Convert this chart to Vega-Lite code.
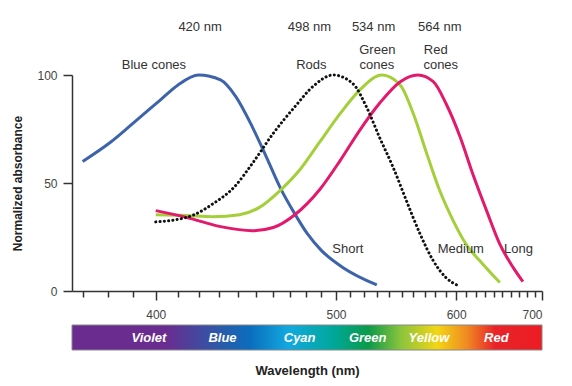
{
  "$schema": "https://vega.github.io/schema/vega-lite/v6.json",
  "padding": {"left": 11, "top": 20, "right": 5, "bottom": 5},
  "background": "white",
  "config": {"view": {"stroke": null}, "font": "Liberation Sans"},
  "spacing": 4,
  "datasets": {
    "curves": [
      {"series": "Blue", "wl": 370, "v": 60}, {"series": "Blue", "wl": 381, "v": 69}, {"series": "Blue", "wl": 390, "v": 77.5},
      {"series": "Blue", "wl": 402, "v": 88.4}, {"series": "Blue", "wl": 410, "v": 95.3}, {"series": "Blue", "wl": 420, "v": 100},
      {"series": "Blue", "wl": 431, "v": 97.7}, {"series": "Blue", "wl": 439, "v": 90}, {"series": "Blue", "wl": 448, "v": 76},
      {"series": "Blue", "wl": 456, "v": 62}, {"series": "Blue", "wl": 464, "v": 48}, {"series": "Blue", "wl": 473, "v": 35.7},
      {"series": "Blue", "wl": 481, "v": 26.4}, {"series": "Blue", "wl": 490, "v": 18.8}, {"series": "Blue", "wl": 505, "v": 10.8},
      {"series": "Blue", "wl": 530, "v": 2.8},
      {"series": "Rods", "wl": 400, "v": 32}, {"series": "Rods", "wl": 409, "v": 33}, {"series": "Rods", "wl": 417, "v": 35},
      {"series": "Rods", "wl": 427, "v": 40.3}, {"series": "Rods", "wl": 438, "v": 48}, {"series": "Rods", "wl": 448, "v": 59},
      {"series": "Rods", "wl": 460, "v": 73}, {"series": "Rods", "wl": 473, "v": 85.3}, {"series": "Rods", "wl": 485, "v": 95},
      {"series": "Rods", "wl": 498, "v": 100}, {"series": "Rods", "wl": 512, "v": 96}, {"series": "Rods", "wl": 522, "v": 85.3},
      {"series": "Rods", "wl": 532, "v": 71.3}, {"series": "Rods", "wl": 543, "v": 57.3}, {"series": "Rods", "wl": 554, "v": 42},
      {"series": "Rods", "wl": 566, "v": 26.4}, {"series": "Rods", "wl": 578, "v": 14}, {"series": "Rods", "wl": 590, "v": 6.2},
      {"series": "Rods", "wl": 603, "v": 2.3},
      {"series": "Green", "wl": 400, "v": 35.3}, {"series": "Green", "wl": 414, "v": 34.9}, {"series": "Green", "wl": 427, "v": 34.4},
      {"series": "Green", "wl": 441, "v": 35.3}, {"series": "Green", "wl": 452, "v": 38.7}, {"series": "Green", "wl": 464, "v": 46.5},
      {"series": "Green", "wl": 476, "v": 56}, {"series": "Green", "wl": 489, "v": 69}, {"series": "Green", "wl": 503, "v": 82.2},
      {"series": "Green", "wl": 517, "v": 93}, {"series": "Green", "wl": 534, "v": 100}, {"series": "Green", "wl": 549, "v": 95.3},
      {"series": "Green", "wl": 560, "v": 82.2}, {"series": "Green", "wl": 572, "v": 63.6}, {"series": "Green", "wl": 584, "v": 46.5},
      {"series": "Green", "wl": 597, "v": 32.6}, {"series": "Green", "wl": 610, "v": 21.7}, {"series": "Green", "wl": 628, "v": 12.4},
      {"series": "Green", "wl": 647, "v": 3.9},
      {"series": "Red", "wl": 400, "v": 37.2}, {"series": "Red", "wl": 414, "v": 34.1}, {"series": "Red", "wl": 431, "v": 29.8},
      {"series": "Red", "wl": 448, "v": 27.9}, {"series": "Red", "wl": 460, "v": 29.4}, {"series": "Red", "wl": 473, "v": 35.3},
      {"series": "Red", "wl": 489, "v": 47}, {"series": "Red", "wl": 503, "v": 60.5}, {"series": "Red", "wl": 517, "v": 74.4},
      {"series": "Red", "wl": 532, "v": 86.8}, {"series": "Red", "wl": 549, "v": 96.9}, {"series": "Red", "wl": 564, "v": 100},
      {"series": "Red", "wl": 578, "v": 96.9}, {"series": "Red", "wl": 590, "v": 86.8}, {"series": "Red", "wl": 604, "v": 71.3},
      {"series": "Red", "wl": 617, "v": 54.3}, {"series": "Red", "wl": 632, "v": 37.2}, {"series": "Red", "wl": 647, "v": 21.7},
      {"series": "Red", "wl": 663, "v": 10.8}, {"series": "Red", "wl": 675, "v": 4.3}
    ],
    "labels": [
      {"label": "420 nm", "wl": 420.7, "v": 122.3},
      {"label": "498 nm", "wl": 482.2, "v": 122.3},
      {"label": "534 nm", "wl": 527.5, "v": 122.3},
      {"label": "564 nm", "wl": 584.1, "v": 122.3},
      {"label": "Blue cones", "wl": 399.2, "v": 104.7},
      {"label": "Rods", "wl": 483.5, "v": 104.7},
      {"label": "Green", "wl": 530.4, "v": 111.6},
      {"label": "cones", "wl": 530, "v": 104.7},
      {"label": "Red", "wl": 580.3, "v": 111.6},
      {"label": "cones", "wl": 585, "v": 104.7},
      {"label": "Short", "wl": 508.4, "v": 19.5},
      {"label": "Medium", "wl": 604.7, "v": 19.5},
      {"label": "Long", "wl": 669.4, "v": 19.5}
    ],
    "band": [{"start": 366, "end": 700}],
    "colors": [
      {"name": "Violet", "wl": 397},
      {"name": "Blue", "wl": 432},
      {"name": "Cyan", "wl": 476},
      {"name": "Green", "wl": 523},
      {"name": "Yellow", "wl": 574},
      {"name": "Red", "wl": 643}
    ]
  },
  "vconcat": [
    {
      "width": 470,
      "height": 216,
      "layer": [
        {
          "data": {"name": "curves"},
          "transform": [{"filter": "datum.series !== 'Rods'"}],
          "mark": {"type": "line", "interpolate": "monotone", "strokeWidth": 3},
          "encoding": {
            "x": {"field": "wl", "type": "quantitative"},
            "y": {"field": "v", "type": "quantitative"},
            "color": {"field": "series", "type": "nominal", "legend": null,
              "scale": {"domain": ["Blue", "Green", "Red"], "range": ["#3D64AA", "#A5CF3A", "#E3196B"]}}
          }
        },
        {
          "data": {"name": "curves"},
          "transform": [{"filter": "datum.series === 'Rods'"}],
          "mark": {"type": "line", "interpolate": "monotone", "strokeWidth": 3, "color": "#111", "strokeDash": [0.1, 4.2], "strokeCap": "round"},
          "encoding": {
            "x": {"field": "wl", "type": "quantitative"},
            "y": {"field": "v", "type": "quantitative"}
          }
        },
        {
          "data": {"name": "labels"},
          "mark": {"type": "text", "fontSize": 13, "color": "#333"},
          "encoding": {
            "x": {"field": "wl", "type": "quantitative"},
            "y": {"field": "v", "type": "quantitative"},
            "text": {"field": "label"}
          }
        }
      ],
      "encoding": {
        "x": {
          "field": "wl", "type": "quantitative",
          "scale": {"type": "pow", "exponent": -1, "domain": [366, 700], "zero": false, "nice": false},
          "axis": {
            "title": null, "grid": false,
            "values": [370,380,390,400,410,420,430,440,450,460,470,480,490,500,510,520,530,540,550,560,570,580,590,600,610,620,630,640,650,660,670,680,690,700],
            "labelExpr": "datum.value % 100 === 0 ? datum.label : ''",
            "tickSize": {"condition": {"test": "datum.value % 100 === 0", "value": 9}, "value": 6},
            "labelPadding": 9, "labelFontSize": 12, "labelColor": "#444",
            "tickColor": "#333", "tickWidth": 1.5, "domainColor": "#333", "domainWidth": 1.5
          }
        },
        "y": {
          "field": "v", "type": "quantitative",
          "scale": {"domain": [0, 100], "nice": false},
          "axis": {
            "title": "Normalized absorbance", "titleFontSize": 12, "titleFontWeight": "bold", "titleColor": "#222",
            "titlePadding": 12, "values": [0, 50, 100], "grid": false,
            "tickSize": 9, "labelPadding": 6, "labelFontSize": 12, "labelColor": "#444",
            "tickColor": "#333", "tickWidth": 1.5, "domainColor": "#333", "domainWidth": 1.5
          }
        }
      }
    },
    {
      "width": 470,
      "height": 25,
      "layer": [
        {
          "data": {"name": "band"},
          "mark": {"type": "rect", "stroke": "#888", "strokeWidth": 1,
            "fill": {"gradient": "linear", "x1": 0, "y1": 0, "x2": 1, "y2": 0,
              "stops": [
                {"offset": 0, "color": "#6B2C8F"},
                {"offset": 0.2, "color": "#6A2C90"},
                {"offset": 0.31, "color": "#2E58A8"},
                {"offset": 0.38, "color": "#0A6EBE"},
                {"offset": 0.46, "color": "#12A8E0"},
                {"offset": 0.555, "color": "#00A89A"},
                {"offset": 0.63, "color": "#0A9A4A"},
                {"offset": 0.70, "color": "#8CC43C"},
                {"offset": 0.777, "color": "#F2D614"},
                {"offset": 0.84, "color": "#F08A22"},
                {"offset": 0.9, "color": "#E8232A"},
                {"offset": 1, "color": "#EC1C24"}
              ]}},
          "encoding": {
            "x": {"field": "start", "type": "quantitative"},
            "x2": {"field": "end"}
          }
        },
        {
          "data": {"name": "colors"},
          "mark": {"type": "text", "fontSize": 13, "fontWeight": "bold", "fontStyle": "italic", "color": "white"},
          "encoding": {
            "x": {"field": "wl", "type": "quantitative"},
            "text": {"field": "name"}
          }
        }
      ],
      "encoding": {
        "x": {
          "field": "wl", "type": "quantitative",
          "scale": {"type": "pow", "exponent": -1, "domain": [366, 700], "zero": false, "nice": false},
          "axis": {"title": "Wavelength (nm)", "labels": false, "ticks": false, "domain": false, "grid": false,
            "titleFontSize": 13, "titleFontWeight": "bold", "titleColor": "#222", "titlePadding": 14}
        }
      }
    }
  ]
}
